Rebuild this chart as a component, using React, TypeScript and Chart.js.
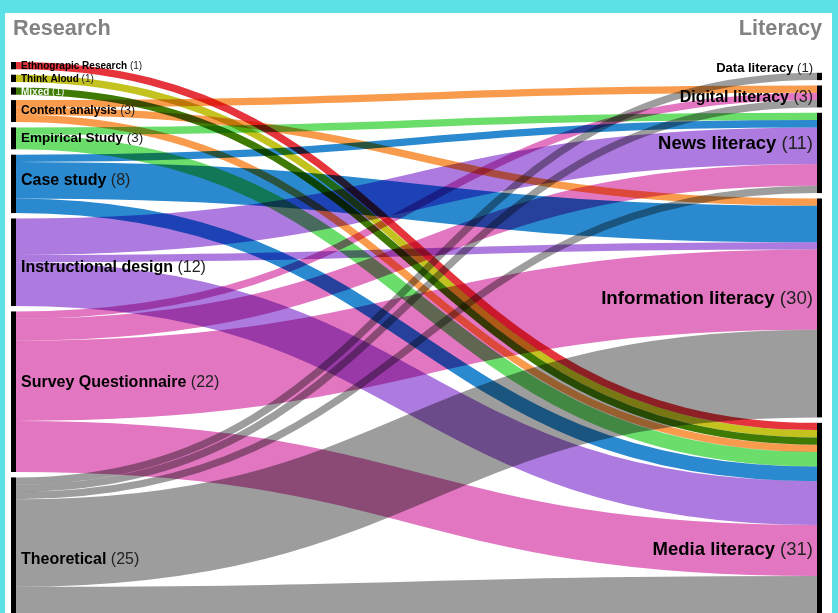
import React, { useEffect, useRef } from 'react';
import { Chart, registerables } from 'chart.js';

Chart.register(...registerables);

// ---------- data ----------
const leftTitle = 'Research';
const rightTitle = 'Literacy';

const sourceNodes = [
  'Ethnograpic Research',
  'Think Aloud',
  'Mixed',
  'Content analysis',
  'Empirical Study',
  'Case study',
  'Instructional design',
  'Survey Questionnaire',
  'Theoretical',
];

const targetNodes = [
  'Data literacy',
  'Digital literacy',
  'News literacy',
  'Information literacy',
  'Media literacy',
];

const flowSource = [
  'Ethnograpic Research',
  'Think Aloud',
  'Mixed',
  'Content analysis', 'Content analysis', 'Content analysis',
  'Empirical Study', 'Empirical Study',
  'Case study', 'Case study', 'Case study',
  'Instructional design', 'Instructional design', 'Instructional design',
  'Survey Questionnaire', 'Survey Questionnaire', 'Survey Questionnaire', 'Survey Questionnaire',
  'Theoretical', 'Theoretical', 'Theoretical', 'Theoretical', 'Theoretical',
];

const flowTarget = [
  'Media literacy',
  'Media literacy',
  'Media literacy',
  'Digital literacy', 'Information literacy', 'Media literacy',
  'News literacy', 'Media literacy',
  'News literacy', 'Information literacy', 'Media literacy',
  'News literacy', 'Information literacy', 'Media literacy',
  'Digital literacy', 'News literacy', 'Information literacy', 'Media literacy',
  'Data literacy', 'Digital literacy', 'News literacy', 'Information literacy', 'Media literacy',
];

const flowValue = [
  1,
  1,
  1,
  1, 1, 1,
  1, 2,
  1, 5, 2,
  5, 1, 6,
  1, 3, 11, 7,
  1, 1, 1, 12, 10,
];

// ---------- styles ----------
const sourceColors = [
  '#e5343c', '#c4c21e', '#3f7a05', '#f99b4c', '#6bdd6b',
  '#2a89cf', '#ad7adf', '#e276c0', '#9d9d9d',
];
const sourceFontSizes = [10, 10, 10, 12, 13.5, 16, 16, 16, 16];
const targetFontSizes = [13, 16, 18.5, 18.7, 18.5];
const sourceLabelNudge = [0, 0, 0, -1, -1.5, -5, 4, -10, -10];
const targetLabelNudge = [-9.5, -0.5, -11, -11, 12.5];
const sourceLabelColors = ['#000', '#000', '#f4fbef', '#000', '#000', '#000', '#000', '#000', '#000'];
const sourceCountColors = ['#222', '#222', '#f4fbef', '#222', '#222', '#222', '#222', '#222', '#222'];

const NODE_WIDTH = 5;
const GAP_UNITS = 0.74;
const LABEL_PAD = 5;
const Y_MAX = 75.5;
const FONT = '"Liberation Sans", Arial, Helvetica, sans-serif';

function drawLabel(
  ctx: CanvasRenderingContext2D,
  name: string,
  count: number,
  anchorX: number,
  align: 'left' | 'right',
  capCenter: number,
  size: number,
  color: string,
  countColor: string
) {
  const bold = `bold ${size}px ${FONT}`;
  const reg = `${size}px ${FONT}`;
  const countText = ` (${count})`;
  ctx.font = bold;
  const wName = ctx.measureText(name).width;
  ctx.font = reg;
  const wCount = ctx.measureText(countText).width;
  const startX = align === 'left' ? anchorX : anchorX - wName - wCount;
  const baseline = capCenter + (size * 0.716) / 2;
  ctx.textAlign = 'left';
  ctx.textBaseline = 'alphabetic';
  ctx.font = bold;
  ctx.fillStyle = color;
  ctx.fillText(name, startX, baseline);
  ctx.font = reg;
  ctx.fillStyle = countColor;
  ctx.fillText(countText, startX + wName, baseline);
}

const sankeyPlugin = {
  id: 'sankeyDraw',
  beforeDraw(chart: any) {
    const ctx: CanvasRenderingContext2D = chart.ctx;
    ctx.save();
    ctx.fillStyle = '#5ce1e6';
    ctx.fillRect(0, 0, chart.width, chart.height);
    ctx.fillStyle = '#ffffff';
    ctx.fillRect(5, 13, 827, chart.height - 13);
    ctx.restore();
  },
  afterDatasetsDraw(chart: any) {
    const ctx: CanvasRenderingContext2D = chart.ctx;
    const xs = chart.scales.x;
    const ys = chart.scales.y;

    const flows = flowValue.map((v, i) => ({
      s: sourceNodes.indexOf(flowSource[i]),
      t: targetNodes.indexOf(flowTarget[i]),
      v,
    }));

    const srcTotals = sourceNodes.map((_, i) =>
      flows.filter((f) => f.s === i).reduce((a, f) => a + f.v, 0)
    );
    const tgtTotals = targetNodes.map((_, i) =>
      flows.filter((f) => f.t === i).reduce((a, f) => a + f.v, 0)
    );
    const leftSpan = srcTotals.reduce((a, b) => a + b, 0) + GAP_UNITS * (sourceNodes.length - 1);
    const rightSpan = tgtTotals.reduce((a, b) => a + b, 0) + GAP_UNITS * (targetNodes.length - 1);

    const srcTop: number[] = [];
    let acc = 0;
    srcTotals.forEach((v) => {
      srcTop.push(acc);
      acc += v + GAP_UNITS;
    });
    const tgtTop: number[] = [];
    acc = (leftSpan - rightSpan) / 2;
    tgtTotals.forEach((v) => {
      tgtTop.push(acc);
      acc += v + GAP_UNITS;
    });

    // offsets within nodes
    const outOff = new Array(flows.length).fill(0);
    const inOff = new Array(flows.length).fill(0);
    sourceNodes.forEach((_, si) => {
      let o = 0;
      flows
        .map((f, i) => ({ f, i }))
        .filter((e) => e.f.s === si)
        .sort((a, b) => a.f.t - b.f.t)
        .forEach((e) => {
          outOff[e.i] = o;
          o += e.f.v;
        });
    });
    targetNodes.forEach((_, ti) => {
      let o = 0;
      flows
        .map((f, i) => ({ f, i }))
        .filter((e) => e.f.t === ti)
        .sort((a, b) => a.f.s - b.f.s)
        .forEach((e) => {
          inOff[e.i] = o;
          o += e.f.v;
        });
    });

    const xL = xs.getPixelForValue(0);
    const xR = xs.getPixelForValue(1);
    const x0 = xL + NODE_WIDTH;
    const x1 = xR - NODE_WIDTH;
    const xm = (x0 + x1) / 2;

    // links
    ctx.save();
    ctx.globalCompositeOperation = 'multiply';
    ctx.lineCap = 'butt';
    flows.forEach((f, i) => {
      const y0 = ys.getPixelForValue(srcTop[f.s] + outOff[i] + f.v / 2);
      const y1 = ys.getPixelForValue(tgtTop[f.t] + inOff[i] + f.v / 2);
      const w = Math.abs(ys.getPixelForValue(f.v) - ys.getPixelForValue(0));
      ctx.beginPath();
      ctx.moveTo(x0, y0);
      ctx.bezierCurveTo(xm, y0, xm, y1, x1, y1);
      ctx.lineWidth = w;
      ctx.strokeStyle = sourceColors[f.s];
      ctx.stroke();
    });
    ctx.restore();

    // nodes
    ctx.save();
    ctx.fillStyle = '#000';
    sourceNodes.forEach((_, i) => {
      const a = ys.getPixelForValue(srcTop[i]);
      const b = ys.getPixelForValue(srcTop[i] + srcTotals[i]);
      ctx.fillRect(xL, a, NODE_WIDTH, b - a);
    });
    targetNodes.forEach((_, i) => {
      const a = ys.getPixelForValue(tgtTop[i]);
      const b = ys.getPixelForValue(tgtTop[i] + tgtTotals[i]);
      ctx.fillRect(xR - NODE_WIDTH, a, NODE_WIDTH, b - a);
    });

    // labels
    sourceNodes.forEach((name, i) => {
      const c = ys.getPixelForValue(srcTop[i] + srcTotals[i] / 2) + sourceLabelNudge[i];
      drawLabel(ctx, name, srcTotals[i], x0 + LABEL_PAD, 'left', c, sourceFontSizes[i], sourceLabelColors[i], sourceCountColors[i]);
    });
    targetNodes.forEach((name, i) => {
      const c = ys.getPixelForValue(tgtTop[i] + tgtTotals[i] / 2) + targetLabelNudge[i];
      drawLabel(ctx, name, tgtTotals[i], x1 - LABEL_PAD + 1, 'right', c, targetFontSizes[i], '#000', '#222');
    });

    // column titles
    ctx.font = `bold 21.7px ${FONT}`;
    ctx.fillStyle = '#828282';
    ctx.textBaseline = 'alphabetic';
    ctx.textAlign = 'left';
    ctx.fillText(leftTitle, 13, 35);
    ctx.textAlign = 'right';
    ctx.fillText(rightTitle, xR, 35);
    ctx.restore();
  },
};

export default function App() {
  const ref = useRef<HTMLCanvasElement>(null);
  useEffect(() => {
    document.body.style.margin = '0';
    const chart = new Chart(ref.current as HTMLCanvasElement, {
      type: 'scatter',
      data: { datasets: [{ data: [] }] },
      options: {
        responsive: false,
        animation: false,
        layout: { padding: { left: 11, right: 16, top: 62, bottom: 0 } },
        scales: {
          x: { type: 'linear', min: 0, max: 1, display: false },
          y: { type: 'linear', min: 0, max: Y_MAX, reverse: true, display: false },
        },
        plugins: { legend: { display: false }, tooltip: { enabled: false } },
      },
      plugins: [sankeyPlugin],
    } as any);
    return () => chart.destroy();
  }, []);
  return (
    <div
      style={{
        position: 'fixed',
        left: 0,
        top: 0,
        width: 838,
        height: 613,
        overflow: 'hidden',
        background: '#5ce1e6',
      }}
    >
      <canvas ref={ref} width={838} height={613} style={{ display: 'block' }} />
    </div>
  );
}
